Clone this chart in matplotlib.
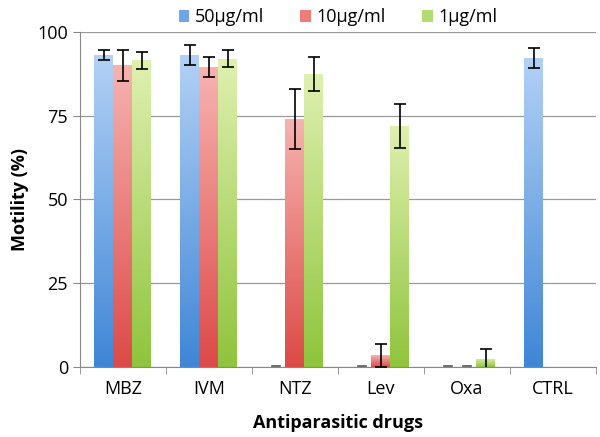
import matplotlib.pyplot as plt
import matplotlib.colors as mcolors
import numpy as np

drugs = ['MBZ', 'IVM', 'NTZ', 'Lev', 'Oxa', 'CTRL']
labels = ['50µg/ml', '10µg/ml', '1µg/ml']
v50 = [93.0, 93.0, 0.0, 0.0, 0.0, 92.3]
e50 = [1.5, 3.0, 0.0, 0.0, 0.0, 3.0]
v10 = [90.0, 89.5, 74.0, 3.5, 0.0, np.nan]
e10 = [4.5, 3.0, 9.0, 3.5, 0.0, np.nan]
v1 = [91.5, 92.0, 87.5, 72.0, 2.5, np.nan]
e1 = [2.5, 2.5, 5.0, 6.5, 3.0, np.nan]

plt.rcParams['font.family'] = ['Open Sans', 'DejaVu Sans']

# light top -> dark bottom, like the excel gradient
grads = [('#3f86d6', '#b3d1f5'), ('#dc4a48', '#f6b3b0'), ('#8fc43c', '#dff0b0')]
legend_cols = ['#6fa4e6', '#ee7d7a', '#b5dc72']

fig = plt.figure(figsize=(6, 4.37), dpi=100)
ax = fig.add_axes([0.133, 0.160, 0.860, 0.767])

x = np.arange(len(drugs))
w = 0.22
series = [(v50, e50), (v10, e10), (v1, e1)]
for i, (vals, errs) in enumerate(series):
    pos = x + (i - 1) * w
    bars = ax.bar(pos, vals, w, color=legend_cols[i], label=labels[i], zorder=2)
    cmap = mcolors.LinearSegmentedColormap.from_list('g%d' % i, grads[i])
    grad = np.linspace(0, 1, 256).reshape(-1, 1)
    for b, v in zip(bars, vals):
        if np.isnan(v):
            continue
        if v == 0:
            # zero values show as a short dash on the axis
            ax.plot([b.get_x() + 0.06, b.get_x() + w - 0.06], [0.2, 0.2], color='#555555', lw=1.2, zorder=3)
            continue
        im = ax.imshow(grad, cmap=cmap, aspect='auto', origin='lower',
                       extent=[b.get_x(), b.get_x() + w, 0, v], zorder=2)
        im.set_clip_path(b)
    m = [not np.isnan(v) and v > 0 for v in vals]
    ax.errorbar(pos[m], np.array(vals)[m], yerr=np.array(errs)[m], fmt='none',
                ecolor='black', elinewidth=1.2, capsize=4, capthick=1.2, zorder=4)

ax.set_xlim(-0.5, len(drugs) - 0.5)
ax.set_ylim(0, 100)
ax.set_yticks([0, 25, 50, 75, 100])
ax.tick_params(axis='y', labelsize=13, colors='#888888', labelcolor='black', length=5)
ax.set_xticks(x)
ax.set_xticklabels(drugs, fontsize=13)
ax.set_xticks(np.arange(len(drugs) + 1) - 0.5, minor=True)
ax.tick_params(axis='x', which='major', length=0, pad=9)
ax.tick_params(axis='x', which='minor', length=5, colors='#888888')
ax.grid(axis='y', color='#999999', lw=0.9, zorder=0)
ax.set_axisbelow(True)
for s in ['top', 'right']:
    ax.spines[s].set_visible(False)
for s in ['left', 'bottom']:
    ax.spines[s].set_color('#888888')

ax.set_xlabel('Antiparasitic drugs', fontsize=13, fontweight='bold', labelpad=12)
ax.set_ylabel('Motility (%)', fontsize=13, fontweight='bold', labelpad=6)
ax.legend(loc='lower center', bbox_to_anchor=(0.5, 0.99), ncol=3, frameon=False,
          fontsize=13, handlelength=0.6, handleheight=0.6, handletextpad=0.3,
          columnspacing=2.0, borderaxespad=0.1)

plt.savefig('out.png', dpi=100)
